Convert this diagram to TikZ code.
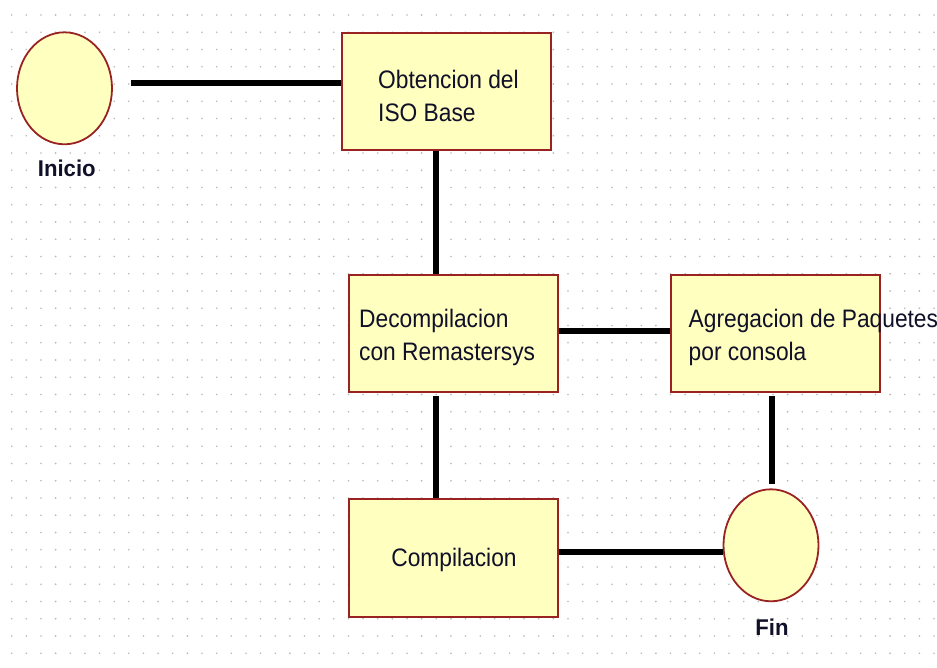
\documentclass[tikz,border=0pt]{standalone}
\usepackage{fontspec}
\setmainfont{Liberation Sans}
\newfontfamily\boxfont[FakeStretch=0.9]{Liberation Sans}
\newfontfamily\tagfont[FakeStretch=0.97]{Liberation Sans}
\usetikzlibrary{shapes.geometric}

\definecolor{boxfill}{RGB}{255,255,192}
\definecolor{boxedge}{RGB}{153,34,34}
\definecolor{ink}{RGB}{16,16,40}
\definecolor{griddot}{RGB}{185,185,185}

\tikzset{
  stepbox/.style={rectangle, draw=boxedge, fill=boxfill, line width=2pt,
    minimum width=209pt, minimum height=117pt, inner sep=0pt},
  terminal/.style={ellipse, draw=boxedge, fill=boxfill, line width=1.8pt,
    minimum width=95pt, minimum height=112pt, inner sep=0pt},
  conn/.style={line width=6pt, black},
  boxtext/.style={font=\boxfont\fontsize{25.3}{32.5}\selectfont, text=ink,
    align=left, inner sep=0pt},
  tagtext/.style={font=\tagfont\bfseries\fontsize{22.8}{26}\selectfont,
    text=ink, inner sep=0pt}
}

\begin{document}
\begin{tikzpicture}[x=1pt,y=-1pt]
  \fill[white] (0,0) rectangle (937,667);
  \useasboundingbox (0,0) rectangle (937,667);

  % dotted drawing grid
  \foreach \i in {0,...,63}
    \foreach \j in {0,...,37}
      \fill[griddot] (11.7+14.64*\i, 15+17.25*\j) circle (0.9pt);

  % start / end terminals
  \node[terminal] (ini) at (64.5,88.3) {};
  \node[terminal] (fin) at (771,545.3) {};

  % process steps
  \node[stepbox] (obt) at (446,91.5) {};
  \node[stepbox] (dec) at (453.5,333) {};
  \node[stepbox] (agr) at (775.5,333) {};
  \node[stepbox, minimum height=118pt] (cmp) at (453.5,557.5) {};

  % connectors
  \draw[conn] ([xshift=18pt,yshift=5pt]ini.east) coordinate (a1) -- (a1 -| obt.west);
  \draw[conn] ([xshift=-9.7pt]obt.south) coordinate (a2) -- (a2 |- dec.north);
  \draw[conn] ([yshift=2pt]dec.east) coordinate (a3) -- (a3 -| agr.west);
  \draw[conn, shorten <=3pt] ([xshift=-17.2pt]dec.south) coordinate (a4) -- (a4 |- cmp.north);
  \draw[conn, shorten <=3pt, shorten >=4pt] ([xshift=-3.8pt]agr.south) coordinate (a5) -- (a5 |- fin.north);
  \draw[conn] ([yshift=6pt]cmp.east) coordinate (a6) -- (a6 -| fin.west);

  % labels
  \node[boxtext, anchor=west] (tobt) at (378,96) {Obtencion del\\ISO Base};
  \node[boxtext, anchor=west] (tdec) at (359,337.7) {Decompilacion\\con Remastersys};
  \node[boxtext, anchor=west] (tagr) at (688.5,337.7) {Agregacion de Paquetes\\por consola};
  \node[boxtext, anchor=base] (tcmp) at (454,566) {Compilacion};
  \node[tagtext, anchor=base] (tini) at (66.8,176.7) {Inicio};
  \node[tagtext, anchor=base] (tfin) at (772,635) {Fin};
\end{tikzpicture}
\end{document}
